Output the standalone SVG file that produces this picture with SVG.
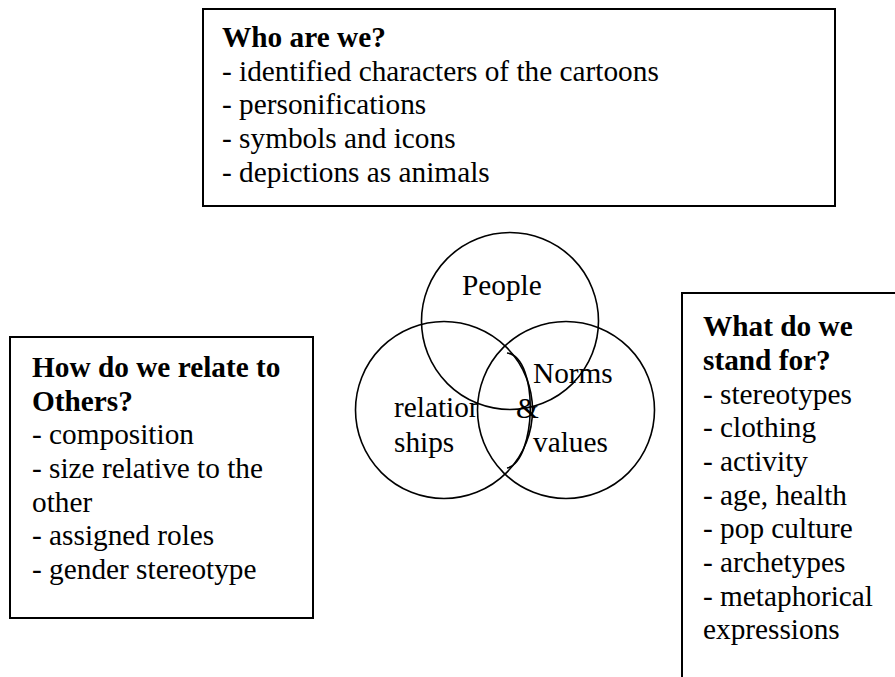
<svg xmlns="http://www.w3.org/2000/svg" width="895" height="677" viewBox="0 0 895 677">
<style>
  .box { fill: #ffffff; stroke: #000000; stroke-width: 2; }
  .circ { fill: none; stroke: #000000; stroke-width: 1.6; }
  text { font-family: "Liberation Serif", "Times New Roman", "DejaVu Serif", serif; font-size: 29.3px; fill: #000000; }
  .b { font-weight: bold; }
</style>
<defs>
  <clipPath id="clipRel"><rect x="380" y="380" width="97" height="90"/></clipPath>
</defs>
<rect width="895" height="677" fill="#ffffff"/>

<g id="who-are-we">
  <rect class="box" x="203" y="9" width="632" height="197"/>
  <text class="b" x="222" y="47">Who are we?</text>
  <text x="222" y="81">- identified characters of the cartoons</text>
  <text x="222" y="114">- personifications</text>
  <text x="222" y="148">- symbols and icons</text>
  <text x="222" y="182">- depictions as animals</text>
</g>

<g id="relate-to-others">
  <rect class="box" x="10" y="337" width="303" height="281"/>
  <text class="b" x="32" y="377">How do we relate to</text>
  <text class="b" x="32" y="411">Others?</text>
  <text x="32" y="444">- composition</text>
  <text x="32" y="478">- size relative to the</text>
  <text x="32" y="512">other</text>
  <text x="32" y="545">- assigned roles</text>
  <text x="32" y="579">- gender stereotype</text>
</g>

<g id="stand-for">
  <rect class="box" x="682" y="293" width="240" height="420"/>
  <text class="b" x="703" y="336">What do we</text>
  <text class="b" x="703" y="370">stand for?</text>
  <text x="703" y="404">- stereotypes</text>
  <text x="703" y="437">- clothing</text>
  <text x="703" y="471">- activity</text>
  <text x="703" y="505">- age, health</text>
  <text x="703" y="538">- pop culture</text>
  <text x="703" y="572">- archetypes</text>
  <text x="703" y="606">- metaphorical</text>
  <text x="703" y="639">expressions</text>
</g>

<g id="venn-people">
  <circle class="circ" cx="510" cy="321" r="88.5"/>
  <text x="462" y="295">People</text>
</g>

<g id="venn-relationships">
  <circle class="circ" cx="444" cy="410" r="88.5"/>
  <text x="394" y="417" clip-path="url(#clipRel)">relation</text>
  <text x="394" y="452">ships</text>
</g>

<g id="venn-norms-values">
  <circle class="circ" cx="566" cy="410" r="88.5"/>
  <text x="533" y="383">Norms</text>
  <text x="516" y="418">&amp;</text>
  <text x="533" y="452">values</text>
</g>

<g id="connectors">
  <path class="circ" d="M 507 353 C 540 358, 536 462, 507 468"/>
</g>
</svg>
